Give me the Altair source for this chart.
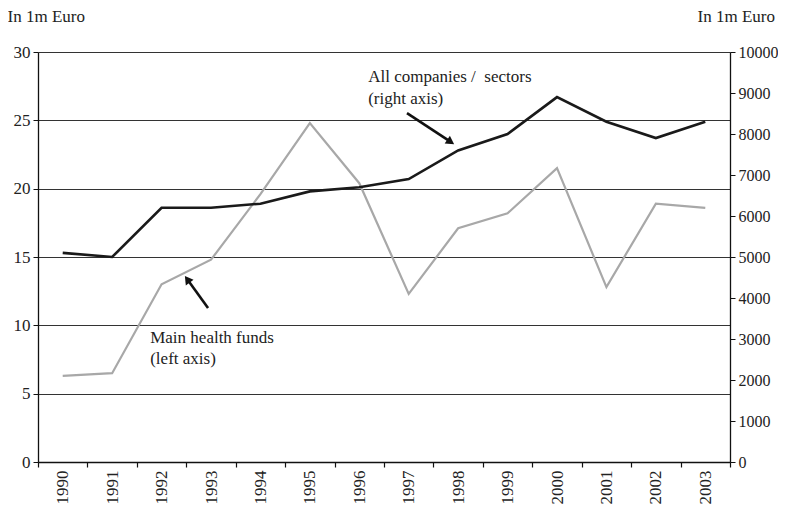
import altair as alt
import pandas as pd

# ---- data ----
years = [str(y) for y in range(1990, 2004)]
health_funds = [6.3, 6.5, 13.0, 14.8, 19.6, 24.8, 20.4, 12.3, 17.1, 18.2, 21.5, 12.8, 18.9, 18.6]
all_companies = [5100, 5000, 6200, 6200, 6300, 6600, 6700, 6900, 7600, 8000, 8900, 8300, 7900, 8300]

left_ticks = [0, 5, 10, 15, 20, 25, 30]
right_ticks = [0, 1000, 2000, 3000, 4000, 5000, 6000, 7000, 8000, 9000, 10000]

# annotations (x in fractional years, y in left-axis units)
label_text = ["All companies /\u00a0 sectors", "(right axis)", "Main health funds", "(left axis)"]
label_x = [1996.18, 1996.18, 1991.77, 1991.77]
label_y = [28.16, 26.55, 9.07, 7.53]

arrow_x = [1996.965, 1992.94]
arrow_y = [25.53, 11.27]
arrow_x2 = [1997.85, 1992.52]
arrow_y2 = [23.42, 13.37]
arrow_angle = [123.4, 324.3]

FONT = "Liberation Serif"
FS = 17
TXT = "#222222"
X_DOMAIN = [1989.5, 2003.5]

df = pd.DataFrame({"year": years, "health": health_funds, "companies": all_companies})
lab = pd.DataFrame({"text": label_text, "lx": label_x, "ly": label_y})
arr = pd.DataFrame({"ax": arrow_x, "ay": arrow_y, "ax2": arrow_x2, "ay2": arrow_y2, "ang": arrow_angle})

band = alt.Scale(type="band", paddingInner=0, paddingOuter=0)

health = alt.Chart(df).mark_line(color="#a8a8a8", strokeWidth=2.2).encode(
    x=alt.X("year:O", sort=years, scale=band, bandPosition=0.5, title=None,
            axis=alt.Axis(tickBand="extent", labelAngle=270, labelFont=FONT, labelFontSize=FS,
                          labelColor=TXT, labelPadding=3, tickSize=5, tickColor="#111",
                          domainColor="#111", domainWidth=1.3, tickWidth=1.2)),
    y=alt.Y("health:Q", scale=alt.Scale(domain=[0, 30], nice=False),
            axis=alt.Axis(orient="left", values=left_ticks, grid=True, gridColor="#333",
                          gridWidth=1.2, labelFont=FONT, labelFontSize=FS, labelColor=TXT,
                          tickSize=5, tickColor="#111", domainColor="#111", domainWidth=1.3,
                          labelPadding=3, format="d", title="In 1m Euro", titleAngle=0,
                          titleX=-31, titleY=-36, titleAlign="left", titleBaseline="middle",
                          titleFont=FONT, titleFontSize=FS, titleFontWeight="normal",
                          titleColor=TXT)),
)

companies = alt.Chart(df).mark_line(color="#1a1a1a", strokeWidth=2.6).encode(
    x=alt.X("year:O", sort=years, scale=band, bandPosition=0.5, axis=None),
    y=alt.Y("companies:Q", scale=alt.Scale(domain=[0, 10000], nice=False),
            axis=alt.Axis(orient="right", values=right_ticks, grid=False, labelFont=FONT,
                          labelFontSize=16, labelColor=TXT, tickSize=5, tickColor="#111",
                          domainColor="#111", domainWidth=1.3, labelPadding=3, format="d",
                          title="In 1m Euro", titleAngle=0, titleX=-33, titleY=-36,
                          titleAlign="left", titleBaseline="middle", titleFont=FONT,
                          titleFontSize=FS, titleFontWeight="normal", titleColor=TXT)),
)

ax_x = alt.Scale(domain=X_DOMAIN, nice=False, zero=False)
ax_y = alt.Scale(domain=[0, 30], nice=False)

texts = alt.Chart(lab).mark_text(font=FONT, fontSize=FS, color=TXT, align="left",
                                 baseline="middle").encode(
    x=alt.X("lx:Q", scale=ax_x, axis=None),
    y=alt.Y("ly:Q", scale=ax_y, axis=None),
    text="text:N",
)

shafts = alt.Chart(arr).mark_rule(color="#111", strokeWidth=2.6).encode(
    x=alt.X("ax:Q", scale=ax_x, axis=None),
    y=alt.Y("ay:Q", scale=ax_y, axis=None),
    x2="ax2:Q",
    y2="ay2:Q",
)

heads = alt.Chart(arr).mark_point(shape="triangle-up", filled=True, color="#111",
                                  size=90, opacity=1).encode(
    x=alt.X("ax2:Q", scale=ax_x, axis=None),
    y=alt.Y("ay2:Q", scale=ax_y, axis=None),
    angle=alt.Angle("ang:Q", scale=None),
)

chart = alt.layer(health, companies, texts, shafts, heads).resolve_scale(
    x="independent", y="independent"
).properties(
    width=692, height=410,
    padding={"left": 30, "top": 44, "right": 48, "bottom": 44},
    autosize=alt.AutoSizeParams(type="none"),
).configure_view(stroke=None).configure(background="white")

chart.save("out.html", embed_options={"renderer": "svg", "actions": False})
